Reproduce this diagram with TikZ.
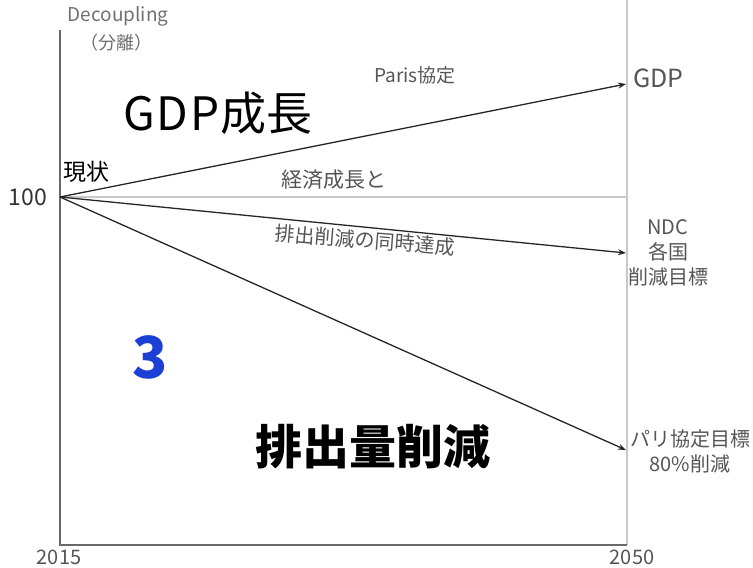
\documentclass[tikz,border=0pt]{standalone}
\usepackage{fontspec}
\setmainfont{Noto Sans CJK JP}
\usetikzlibrary{arrows.meta}
\definecolor{axisgray}{HTML}{6A6A6A}
\definecolor{lightgray}{HTML}{C8C8C8}
\definecolor{txtgray}{HTML}{555555}
\definecolor{lblgray}{HTML}{707070}
\definecolor{bigblue}{HTML}{1C3FD6}
\tikzset{
  axis/.style={draw=axisgray, line width=1.8pt},
  guide/.style={draw=lightgray, line width=1.5pt},
  trend/.style={draw=black!85, line width=1.3pt, -{Stealth[length=8pt,width=6pt]}},
  small/.style={text=txtgray, font=\fontsize{20}{25}\selectfont, inner sep=0pt, align=center},
}
\begin{document}
\begin{tikzpicture}[x=1pt,y=-1pt]
\useasboundingbox (0,0) rectangle (753,568);
% guides and axes
\coordinate (o) at (60,197);
\coordinate (rtop) at (627,0);
\coordinate (rbot) at (627,545);
\coordinate (ltop) at (60,30);
\coordinate (lbot) at (60,545);
\coordinate (hend) at (627,197);
\draw[guide] (rtop) -- (rbot);
\draw[guide] (o) -- (hend);
\draw[axis] (ltop) -- (lbot) -- (rbot);
% trend arrows
\coordinate (egdp) at (626,84);
\coordinate (endc) at (626,253);
\coordinate (epar) at (626,450);
\draw[trend] (o) -- (egdp);
\draw[trend] (o) -- (endc);
\draw[trend] (o) -- (epar);
% labels
\node[text=lblgray, font=\fontsize{19}{20}\selectfont, inner sep=0pt] (dec) at (118,16) {Decoupling};
\node[text=lblgray, font=\fontsize{18}{20}\selectfont, inner sep=0pt] (bunri) at (116,43) {（分離）};
\node[font=\fontsize{46}{50}\selectfont, inner sep=0pt] (gdpg) at (218,113) {G\kern2pt D\kern2pt P\kern1pt 成長};
\node[text=txtgray, font=\fontsize{19}{20}\selectfont, inner sep=0pt] (paris) at (415,75) {Paris協定};
\node[font=\fontsize{23}{24}\selectfont, inner sep=0pt] (gen) at (86,172) {現状};
\node[text=black!80, font=\fontsize{23}{24}\selectfont, inner sep=0pt] (hund) at (28,197) {100};
\node[text=txtgray, font=\fontsize{21}{24}\selectfont, inner sep=0pt] (keizai) at (334,180) {経済成長と};
\node[text=txtgray, font=\fontsize{20}{24}\selectfont, inner sep=0pt, rotate=-4.5] (doji) at (365,240) {排出削減の同時達成};
\node[text=txtgray, font=\fontsize{25}{26}\selectfont, inner sep=0pt, anchor=west] (gdpr) at (633,78) {GDP};
\node[small] (ndc) at (668,253) {NDC\\各国\\削減目標};
\node[text=bigblue, font=\bfseries\fontsize{58}{60}\selectfont, inner sep=0pt] (three) at (150,357) {3};
\node[font=\bfseries\fontsize{47}{50}\selectfont, inner sep=0pt] (haishutsu) at (373,447) {排出量削減};
\node[small] (pariT) at (690,451) {パリ協定目標\\80\%削減};
\node[text=txtgray, font=\fontsize{20}{22}\selectfont, inner sep=0pt] (y1) at (59,557) {2015};
\node[text=txtgray, font=\fontsize{20}{22}\selectfont, inner sep=0pt] (y2) at (632,557) {2050};
\end{tikzpicture}
\end{document}
